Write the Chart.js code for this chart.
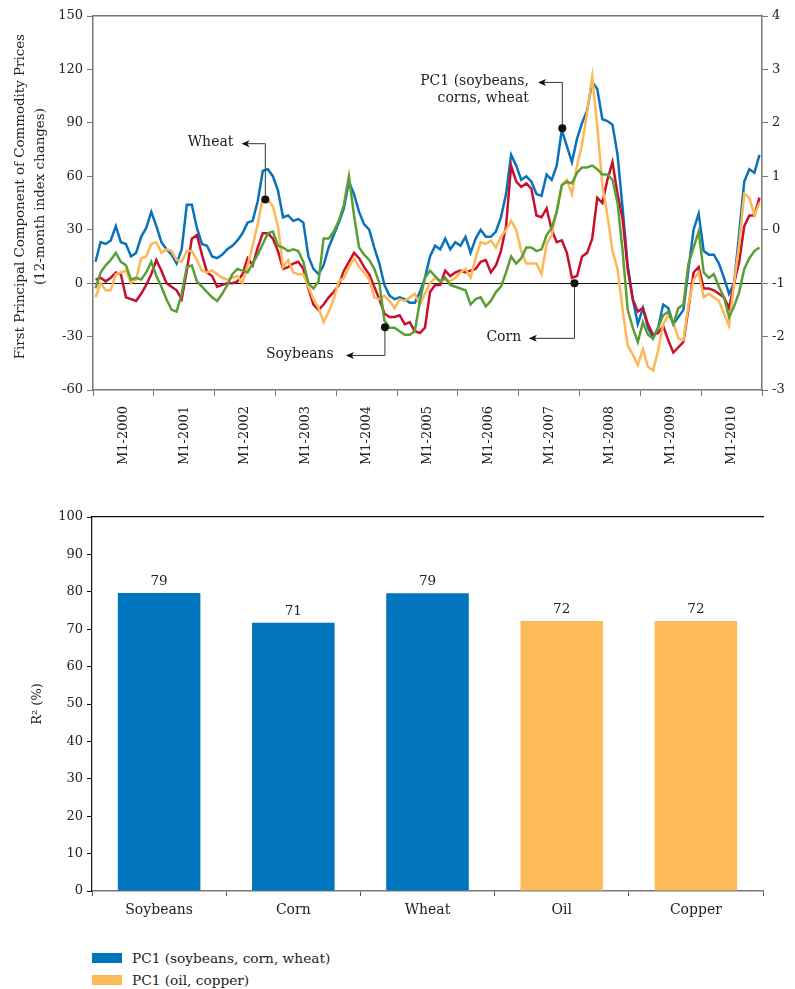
<!DOCTYPE html>
<html>
<head>
<meta charset="utf-8">
<script src="https://cdn.jsdelivr.net/npm/chart.js@4.4.1/dist/chart.umd.min.js"></script>
<style>
  html, body { margin: 0; padding: 0; background: #fff; }
  body { width: 795px; height: 989px; position: relative; overflow: hidden; }
  #topChart { position: absolute; left: 0; top: 0; }
  #barChart { position: absolute; left: 0; top: 490px; }
  #legend { position: absolute; left: 92px; top: 947px; font: 13.7px 'DejaVu Serif', serif; color: #222; }
  .item { display: flex; align-items: center; height: 22px; }
  .box { width: 30px; height: 10px; margin-right: 10px; }
</style>
</head>
<body>
<canvas id="topChart" width="795" height="470"></canvas>
<canvas id="barChart" width="795" height="440"></canvas>
<div id="legend"></div>
<script>
// --- data: monthly, M1-2000 .. M12-2010 ---
var yearLabels = ['M1-2000', 'M1-2001', 'M1-2002', 'M1-2003', 'M1-2004', 'M1-2005',
  'M1-2006', 'M1-2007', 'M1-2008', 'M1-2009', 'M1-2010'];

var pc1 = [12, 23, 22, 24, 32, 23, 22, 15, 17, 26, 31, 40,
  32, 23, 19, 16, 11, 19, 44, 44, 31, 22, 21, 15,
  14, 16, 19, 21, 24, 28, 34, 35, 46, 63, 64, 60,
  52, 37, 38, 35, 36, 34, 15, 8, 5, 10, 20, 27,
  34, 42, 57, 50, 40, 33, 30, 20, 11, -1, -7, -9,
  -8, -9, -11, -11, -5, 3, 15, 21, 19, 25, 19, 23,
  21, 26, 17, 25, 30, 26, 26, 29, 37, 50, 72, 66,
  58, 60, 57, 50, 49, 61, 58, 66, 86, 77, 68, 81,
  90, 97, 113, 109, 92, 91, 89, 72, 42, 10, -9, -23,
  -14, -25, -31, -25, -12, -14, -23, -19, -15, 8, 30, 39,
  18, 16, 16, 11, 3, -6, 0, 28, 57, 64, 62, 72];

var corn = [2, 3, 1, 3, 6, 5, -8, -9, -10, -6, -1, 5,
  13, 7, 0, -2, -4, -9, 7, 25, 27, 16, 6, 4,
  -2, -1, 0, 0, 1, 5, 14, 10, 20, 28, 28, 25,
  18, 8, 9, 11, 12, 8, -3, -12, -15, -12, -8, -5,
  -1, 7, 12, 17, 14, 9, 5, -2, -9, -17, -19, -19,
  -18, -23, -22, -27, -28, -25, -5, -1, -1, 7, 4, 6,
  7, 6, 7, 8, 12, 13, 6, 10, 18, 32, 66, 57,
  54, 56, 53, 38, 37, 42, 30, 23, 24, 17, 3, 4,
  15, 17, 25, 48, 45, 58, 68, 50, 36, 8, -9, -16,
  -14, -23, -29, -28, -24, -32, -39, -36, -33, -14, 6, 9,
  -3, -3, -4, -6, -8, -14, 0, 12, 32, 38, 38, 48];

var wheat = [-8, 0, -4, -4, 5, 6, 7, 0, 2, 14, 15, 22,
  23, 17, 19, 18, 13, 12, 18, 18, 13, 7, 6, 7,
  5, 3, 2, 3, 4, 0, 10, 21, 33, 48, 47, 43,
  32, 9, 13, 6, 5, 5, -2, -9, -14, -22, -16, -9,
  1, 3, 9, 14, 9, 6, 2, -8, -9, -7, -10, -14,
  -9, -10, -8, -6, -12, -6, 0, 3, 1, 2, 1, 3,
  6, 8, 3, 14, 23, 22, 24, 20, 26, 30, 35, 30,
  18, 11, 11, 11, 5, 22, 27, 41, 55, 58, 50, 66,
  78, 96, 116, 88, 55, 38, 18, 8, -15, -35, -40, -46,
  -37, -47, -49, -38, -23, -18, -22, -31, -32, -12, 2, 6,
  -8, -6, -8, -10, -17, -24, 0, 22, 50, 48, 38, 45];

var soybeans = [-3, 6, 10, 13, 17, 12, 10, 2, 3, 2, 6, 12,
  4, -2, -9, -15, -16, -6, 9, 10, 1, -2, -5, -8,
  -10, -6, -1, 5, 8, 7, 6, 11, 16, 22, 28, 29,
  21, 20, 18, 19, 18, 12, 0, -3, 1, 25, 25, 29,
  35, 44, 60, 38, 20, 16, 13, 8, 0, -21, -25, -25,
  -27, -29, -29, -27, -10, 3, 7, 4, 1, 3, -1, -2,
  -3, -4, -12, -9, -8, -13, -10, -5, -2, 6, 15, 11,
  14, 20, 20, 18, 19, 27, 31, 40, 55, 57, 56, 62,
  65, 65, 66, 64, 61, 61, 58, 45, 18, -15, -25, -33,
  -22, -29, -31, -25, -18, -16, -23, -14, -12, 11, 20, 29,
  6, 3, 5, -2, -8, -19, -13, -5, 8, 14, 18, 20];

// R2 of each price on the two first principal components
var commodities = ['Soybeans', 'Corn', 'Wheat', 'Oil', 'Copper'];
var r2Grains = [79.7, 71.7, 79.6, null, null];
var r2Metals = [null, null, null, 72.2, 72.2];
var r2Labels = ['79', '71', '79', '72', '72'];

var blue = '#0a72bb';
var red = '#c8102e';
var orange = '#fdb755';
var green = '#5b9e35';
var ink = '#222';
var serif = "'DejaVu Serif', serif";

// tick positions of the monthly axis
var yearEdges = [], yearMids = [];
for (var k = 0; k <= yearLabels.length; k++) {
  yearEdges.push(k * 12 - 0.5);
  if (k < yearLabels.length) yearMids.push(k * 12 + 5.5);
}

function series(arr) {
  return arr.map(function (v, i) { return { x: i, y: v }; });
}

// arrows with a dot on a line and a text label
var notes = [
  { lines: ['Wheat'], at: [33.5, 47], elbow: 78.3, arrowTo: 28.8, textAt: 27.2 },
  { lines: ['PC1 (soybeans,', 'corns, wheat'], at: [92.1, 87], elbow: 112.7, arrowTo: 87.3, textAt: 85.5 },
  { lines: ['Soybeans'], at: [57.1, -24.8], elbow: -40.6, arrowTo: 49.4, textAt: 47.0 },
  { lines: ['Corn'], at: [94.5, 0], elbow: -31, arrowTo: 85.5, textAt: 84.0 }
];

var notePlugin = {
  id: 'notes',
  afterDatasetsDraw: function (chart) {
    var ctx = chart.ctx, xs = chart.scales.x, ys = chart.scales.y;
    ctx.save();
    notes.forEach(function (n) {
      var px = xs.getPixelForValue(n.at[0]);
      var py = ys.getPixelForValue(n.at[1]);
      var ey = ys.getPixelForValue(n.elbow);
      var ax = xs.getPixelForValue(n.arrowTo);
      ctx.strokeStyle = '#333';
      ctx.lineWidth = 1;
      ctx.beginPath();
      ctx.moveTo(px, py);
      ctx.lineTo(px, ey);
      ctx.lineTo(ax + 6, ey);
      ctx.stroke();
      ctx.fillStyle = '#111';
      ctx.beginPath();
      ctx.moveTo(ax, ey);
      ctx.lineTo(ax + 8, ey - 3.5);
      ctx.lineTo(ax + 6, ey);
      ctx.lineTo(ax + 8, ey + 3.5);
      ctx.closePath();
      ctx.fill();
      ctx.beginPath();
      ctx.arc(px, py, 4, 0, Math.PI * 2);
      ctx.fill();
      ctx.fillStyle = ink;
      ctx.font = '14px ' + serif;
      ctx.textAlign = 'right';
      ctx.textBaseline = 'middle';
      var tx = xs.getPixelForValue(n.textAt);
      n.lines.forEach(function (t, j) {
        ctx.fillText(t, tx, ey - 1 + j * 17);
      });
    });
    ctx.restore();
  }
};

function lineSet(label, data, color) {
  return {
    label: label, data: series(data), borderColor: color, backgroundColor: color,
    borderWidth: 2.5, pointRadius: 0, tension: 0, xAxisID: 'x', yAxisID: 'y'
  };
}

var tickFont = { family: serif, size: 13 };

new Chart(document.getElementById('topChart'), {
  type: 'line',
  data: {
    datasets: [
      lineSet('Soybeans', soybeans, green),
      lineSet('Wheat', wheat, orange),
      lineSet('Corn', corn, red),
      lineSet('PC1 (soybeans, corn, wheat)', pc1, blue)
    ]
  },
  options: {
    responsive: false,
    animation: false,
    layout: { padding: 0 },
    plugins: { legend: { display: false }, tooltip: { enabled: false } },
    scales: {
      x: {
        type: 'linear', position: 'bottom', weight: 0, min: -0.5, max: 131.5,
        afterBuildTicks: function (s) { s.ticks = yearEdges.map(function (v) { return { value: v }; }); },
        ticks: { display: false },
        grid: { drawOnChartArea: false, tickLength: 6, color: '#777' },
        border: { color: '#777', width: 1.5 },
        afterFit: function (s) { s.height = 8; }
      },
      xLab: {
        type: 'linear', position: 'bottom', weight: 1, min: -0.5, max: 131.5,
        afterBuildTicks: function (s) { s.ticks = yearMids.map(function (v) { return { value: v }; }); },
        ticks: {
          autoSkip: false, minRotation: 90, maxRotation: 90, padding: 0,
          font: tickFont, color: ink,
          callback: function (v, i) { return yearLabels[i]; }
        },
        grid: { display: false },
        border: { display: false },
        afterFit: function (s) { s.height = 72; }
      },
      xTop: {
        type: 'linear', position: 'top', min: -0.5, max: 131.5,
        ticks: { display: false },
        grid: { display: false },
        border: { color: '#777', width: 1.5 },
        afterFit: function (s) { s.height = 16; }
      },
      y: {
        position: 'left', min: -60, max: 150,
        ticks: { stepSize: 30, font: tickFont, color: ink, padding: 4 },
        grid: {
          tickLength: 6, tickColor: '#777',
          color: function (c) { return c.tick && c.tick.value === 0 ? '#111' : 'rgba(0,0,0,0)'; },
          lineWidth: 1
        },
        border: { color: '#777', width: 1.5 },
        title: {
          display: true,
          // leading spaces nudge the rotated lines slightly upward, as in the original
          text: ['   First Principal Component of Commodity Prices', '   (12-month index changes)'],
          font: { family: serif, size: 13.4, lineHeight: 1.5 }, color: ink, padding: { top: 10, bottom: 0 }
        },
        afterFit: function (s) { s.width = 93; }
      },
      yRight: {
        position: 'right', min: -3, max: 4,
        ticks: { stepSize: 1, font: tickFont, color: ink, padding: 4 },
        grid: { drawOnChartArea: false, tickLength: 6, color: '#777' },
        border: { color: '#777', width: 1.5 },
        afterFit: function (s) { s.width = 33; }
      }
    }
  },
  plugins: [notePlugin]
});

// value labels above the bars
var barLabelPlugin = {
  id: 'barLabels',
  afterDatasetsDraw: function (chart) {
    var ctx = chart.ctx;
    ctx.save();
    ctx.font = '13.5px ' + serif;
    ctx.fillStyle = ink;
    ctx.textAlign = 'center';
    ctx.textBaseline = 'bottom';
    chart.data.datasets.forEach(function (ds, d) {
      chart.getDatasetMeta(d).data.forEach(function (bar, i) {
        if (ds.data[i] == null) return;
        ctx.fillText(r2Labels[i], bar.x, bar.y - 5);
      });
    });
    ctx.restore();
  }
};

var barChart = new Chart(document.getElementById('barChart'), {
  type: 'bar',
  data: {
    labels: commodities,
    datasets: [
      { label: 'PC1 (soybeans, corn, wheat)', data: r2Grains, backgroundColor: '#0075be', barPercentage: 0.615, categoryPercentage: 1 },
      { label: 'PC1 (oil, copper)', data: r2Metals, backgroundColor: '#fdbb57', barPercentage: 0.615, categoryPercentage: 1 }
    ]
  },
  options: {
    responsive: false,
    animation: false,
    layout: { padding: { right: 32 } },
    plugins: { legend: { display: false }, tooltip: { enabled: false } },
    scales: {
      x: {
        stacked: true,
        ticks: { font: { family: serif, size: 14 }, color: ink, padding: 6 },
        grid: { drawOnChartArea: false, tickLength: 5, color: '#555', offset: true },
        border: { color: '#777', width: 1.5 },
        afterFit: function (s) { s.height = 39; }
      },
      xTop: {
        position: 'top', type: 'category', labels: commodities,
        ticks: { display: false },
        grid: { display: false },
        border: { color: '#111', width: 1.2 },
        afterFit: function (s) { s.height = 27; }
      },
      y: {
        stacked: true, min: 0, max: 100,
        ticks: { stepSize: 10, font: tickFont, color: ink, padding: 4 },
        grid: { drawOnChartArea: false, tickLength: 5, color: '#111' },
        border: { color: '#111', width: 1.2 },
        title: { display: true, text: 'R² (%)', font: { family: serif, size: 13 }, color: ink, padding: { top: 30, bottom: 0 } },
        afterFit: function (s) { s.width = 92; }
      }
    }
  },
  plugins: [barLabelPlugin]
});

// legend under the bar chart
var legendBox = document.getElementById('legend');
barChart.data.datasets.forEach(function (ds) {
  var row = document.createElement('div');
  row.className = 'item';
  var sw = document.createElement('span');
  sw.className = 'box';
  sw.style.background = ds.backgroundColor;
  var tx = document.createElement('span');
  tx.textContent = ds.label;
  row.appendChild(sw);
  row.appendChild(tx);
  legendBox.appendChild(row);
});
</script>
</body>
</html>
